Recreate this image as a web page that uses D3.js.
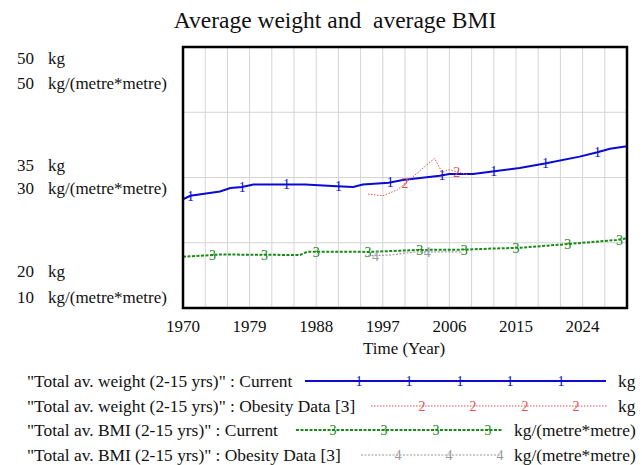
<!DOCTYPE html>
<html><head><meta charset="utf-8">
<script src="https://cdn.jsdelivr.net/npm/d3@7/dist/d3.min.js"></script>
<style>
body{margin:0;background:#fff}
svg{display:block}
</style>
</head><body>
<svg id="chart" width="642" height="465"></svg>
<script>
// ---- data ----
const weightCurrentYears = [1970, 1971, 1975, 1976.4, 1978, 1979.5, 1984, 1986.5, 1990.8, 1993, 1994.3, 1997.8, 1999.7, 2004.7, 2006, 2009.2, 2011.8, 2015.5, 2018.9, 2023.6, 2026, 2027.7, 2030];
const weightCurrentValues = [32.5, 32.9, 33.4, 33.8, 33.9, 34.2, 34.2, 34.2, 34.0, 33.9, 34.2, 34.4, 34.7, 35.2, 35.4, 35.4, 35.7, 36.1, 36.6, 37.4, 37.9, 38.3, 38.6];
const weightDataYears = [1995, 1997, 1999, 2004, 2005, 2006, 2008.5];
const weightDataValues = [33.1, 32.9, 33.6, 37.2, 35.6, 35.9, 35.3];
const bmiCurrentYears = [1970, 1972.3, 1975, 1985.8, 1986.8, 1995, 2002, 2008, 2011.6, 2015.7, 2022, 2028.6, 2030];
const bmiCurrentValues = [17.86, 18.0, 18.2, 18.12, 18.62, 18.6, 18.9, 18.95, 19.1, 19.25, 19.8, 20.42, 20.68];
const bmiDataYears = [1995, 1998, 2001.4, 2005.7, 2007.7];
const bmiDataValues = [18.0, 18.12, 18.6, 18.6, 18.6];

const xTickYears = [1970, 1979, 1988, 1997, 2006, 2015, 2024];
const kgTicks = [50, 35, 20];
const bmiTicks = [50, 30, 10];

const marker1Years = [1971, 1978, 1984, 1991, 1998, 2005, 2012, 2019, 2026];
const marker2Years = [2000, 2007];
const marker3Years = [1974, 1981, 1988, 1995, 2002, 2008, 2015, 2022, 2029];
const marker4Years = [1996, 2003];

const legendLabels = [
  '"Total av. weight (2-15 yrs)" : Current',
  '"Total av. weight (2-15 yrs)" : Obesity Data [3]',
  '"Total av. BMI (2-15 yrs)" : Current',
  '"Total av. BMI (2-15 yrs)" : Obesity Data [3]'
];
const legendUnits = ['kg', 'kg', 'kg/(metre*metre)', 'kg/(metre*metre)'];

// ---- layout ----
const FONT = "'Liberation Serif', Tinos, 'Times New Roman', serif";
const svg = d3.select('#chart');
const L = 183, R = 627, T = 47, B = 308;
const x = d3.scaleLinear().domain([1970, 2030]).range([L, R]);
const yKg = d3.scaleLinear().domain([20, 50]).range([B, T]);
const yBmi = d3.scaleLinear().domain([10, 50]).range([B, T]);

function txt(g, xx, yy, s, size, anchor, color) {
  return g.append('text').attr('x', xx).attr('y', yy)
    .attr('font-family', FONT).attr('font-size', size)
    .attr('text-anchor', anchor || 'start').attr('fill', color || '#111')
    .style('white-space', 'pre').text(s);
}

// title
txt(svg, 335, 28, 'Average weight and  average BMI', 23.5, 'middle');

// grid
const grid = svg.append('g').attr('stroke', '#d4d4d4').attr('stroke-width', 1);
grid.selectAll('line.v').data(d3.range(1973, 2030, 3)).join('line')
  .attr('x1', d => x(d)).attr('x2', d => x(d)).attr('y1', T).attr('y2', B);
grid.selectAll('line.h').data([27.5, 35, 42.5]).join('line').attr('class', 'h')
  .attr('x1', L).attr('x2', R).attr('y1', d => yKg(d)).attr('y2', d => yKg(d));

// series
const series = [
  {years: weightCurrentYears, values: weightCurrentValues, y: yKg, color: '#0a0ad2', width: 2, dash: null, label: '1', markers: marker1Years},
  {years: weightDataYears, values: weightDataValues, y: yKg, color: '#e05252', width: 1, dash: '1.5,1.5', label: '2', markers: marker2Years},
  {years: bmiCurrentYears, values: bmiCurrentValues, y: yBmi, color: '#178a17', width: 2, dash: '3,1.5', label: '3', markers: marker3Years},
  {years: bmiDataYears, values: bmiDataValues, y: yBmi, color: '#9a9a9a', width: 1.2, dash: '2,1.5', label: '4', markers: marker4Years}
];
const plot = svg.append('g');
series.forEach(s => {
  const pts = s.years.map((yr, i) => [yr, s.values[i]]);
  const line = d3.line().x(d => x(d[0])).y(d => s.y(d[1]));
  plot.append('path').attr('d', line(pts)).attr('fill', 'none')
    .attr('stroke', s.color).attr('stroke-width', s.width)
    .attr('stroke-dasharray', s.dash);
  const interp = d3.scaleLinear().domain(s.years).range(s.values);
  s.markers.forEach(m => txt(plot, x(m), s.y(interp(m)) + 5, s.label, 14, 'middle', s.color));
});

// frame
svg.append('rect').attr('x', L).attr('y', T).attr('width', R - L).attr('height', B - T)
  .attr('fill', 'none').attr('stroke', '#000').attr('stroke-width', 2.5);

// y labels
const yLab = svg.append('g');
const yRows = [[64, 89], [171, 194], [277, 303]];
kgTicks.forEach((v, i) => {
  txt(yLab, 17, yRows[i][0], String(v), 17);
  txt(yLab, 48, yRows[i][0], 'kg', 17);
  txt(yLab, 17, yRows[i][1], String(bmiTicks[i]), 17);
  txt(yLab, 48, yRows[i][1], 'kg/(metre*metre)', 17);
});

// x labels
const xl = svg.append('g');
xTickYears.forEach(d => txt(xl, x(d), 332, String(d), 17, 'middle'));
txt(svg, 404, 354, 'Time (Year)', 17, 'middle');

// legend
const legRowY = [381, 406, 430, 455];
const legLine = [[305, 606], [371, 608], [296, 502], [361, 502]];
const legMarkX = [[359, 409, 460, 510, 561], [422, 473, 525, 576], [333, 384, 436, 488], [398, 449, 500]];
const legUnitX = [618, 618, 514, 514];
const leg = svg.append('g');
series.forEach((s, i) => {
  const cy = legRowY[i];
  txt(leg, 27, cy + 6, legendLabels[i], 17.4);
  leg.append('line').attr('x1', legLine[i][0]).attr('x2', legLine[i][1]).attr('y1', cy).attr('y2', cy)
    .attr('stroke', s.color).attr('stroke-width', s.width).attr('stroke-dasharray', s.dash);
  legMarkX[i].forEach(mx => txt(leg, mx, cy + 5, s.label, 14, 'middle', s.color));
  txt(leg, legUnitX[i], cy + 6, legendUnits[i], 17.4);
});
</script>
</body></html>
